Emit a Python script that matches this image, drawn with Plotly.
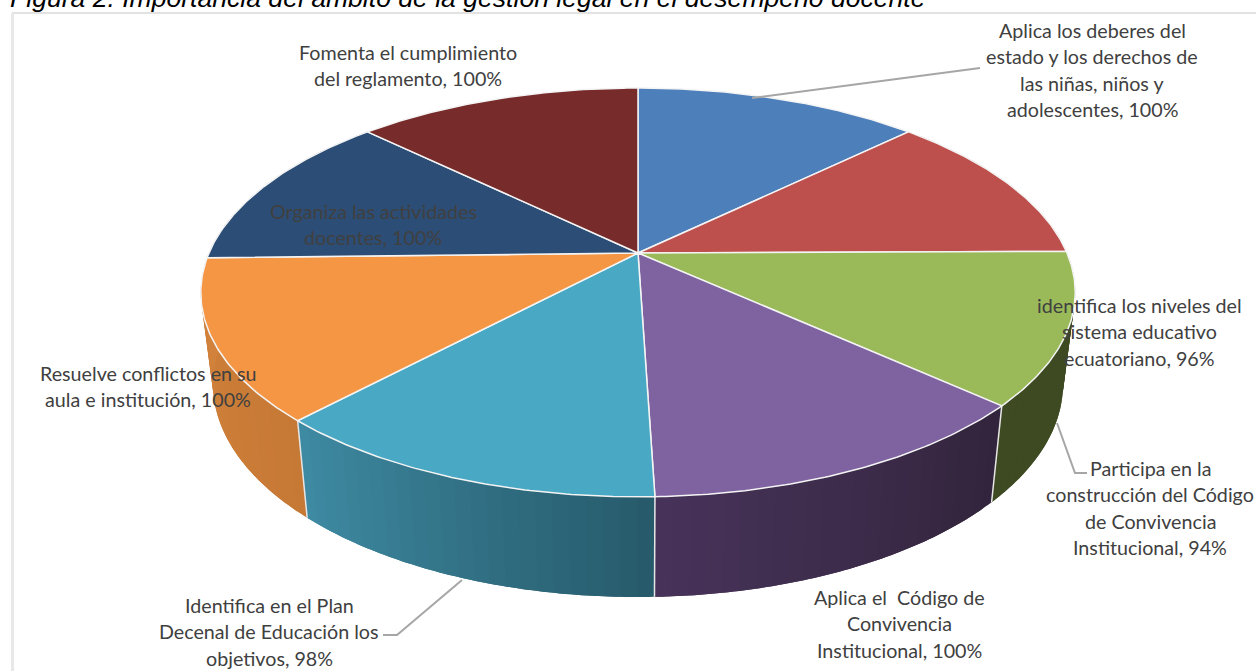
import numpy as np
import plotly.graph_objects as go

TITLE = "Figura 2. Importancia del ámbito de la gestión legal en el desempeño docente"
# Clockwise from 12 o'clock
categories = [
    "Aplica los deberes del|estado y los derechos de|las niñas, niños y|adolescentes",
    "identifica los niveles del|sistema educativo|ecuatoriano",
    "Participa en la|construcción del Código|de Convivencia|Institucional",
    "Aplica el  Código de|Convivencia|Institucional",
    "Identifica en el Plan|Decenal de Educación los|objetivos",
    "Resuelve conflictos en su|aula e institución",
    "Organiza las actividades|docentes",
    "Fomenta el cumplimiento|del reglamento",
]
values = [100, 96, 94, 100, 98, 100, 100, 100]
top_colors = ["#4d7fba", "#bd4f4c", "#9aba59", "#7f62a0", "#49a8c3", "#f59645", "#2c4d75", "#772b2a"]
wall_left = ["#3a5f8c", "#8e3b39", "#3e4a22", "#47335a", "#3f8ba3", "#d3833c", "#203a58", "#591f1f"]
wall_right = ["#3a5f8c", "#8e3b39", "#3e4a22", "#32243b", "#265a6b", "#c67935", "#203a58", "#591f1f"]

label_centers = [(1092, 30), (1139, 305), (1150, 468), (899, 597), (269, 605), (148, 373), (373, 211), (408, 52)]
leaders = [
    ([752, 980], [98, 68]),
    ([1057, 1075, 1087], [423, 473, 473]),
    ([462, 397, 383], [580, 635, 635]),
]

CX, CY, RX, RY, K = 638, 253, 429, 196.8, 0.193
BX, BY, BCY = 417, 205, 343
LINE_H = 26.5


def project(theta, rx, ry, cy):
    s = -np.cos(theta)
    w = 1 - K * s
    return CX + rx * np.sin(theta) / w, cy + ry * s / w


def mix(a, b, t):
    ca = [int(a[i:i + 2], 16) for i in (1, 3, 5)]
    cb = [int(b[i:i + 2], 16) for i in (1, 3, 5)]
    return "#%02x%02x%02x" % tuple(round(p + (q - p) * t) for p, q in zip(ca, cb))


fig = go.Figure()
edges = np.concatenate([[0], np.cumsum(values)]) / sum(values) * 2 * np.pi

# side walls: overlapping shaded bands painted in order so no seams show
for i in range(len(values)):
    start, end = edges[i], edges[i + 1]
    if np.cos(start) > 0.2 and np.cos(end) > 0.2:
        continue
    nb = 24
    th = np.linspace(start, end, nb + 1)
    for j in range(nb):
        t = np.linspace(th[j], th[min(j + 2, nb)], 7)
        xt, yt = project(t, RX, RY, CY)
        xb, yb = project(t[::-1], BX, BY, BCY)
        # angle runs right-to-left along the front of the pie
        color = mix(wall_right[i], wall_left[i], (j + 0.5) / nb)
        fig.add_trace(go.Scatter(x=np.r_[xt, xb, xt[0]], y=np.r_[yt, yb, yt[0]], mode="none",
                                 fill="toself", fillcolor=color, hoverinfo="skip"))
for e in edges[3:7]:
    xt, yt = project(np.array([e]), RX, RY, CY)
    xb, yb = project(np.array([e]), BX, BY, BCY)
    fig.add_trace(go.Scatter(x=[xt[0], xb[0]], y=[yt[0], yb[0]], mode="lines",
                             line=dict(color="#e6e6e6", width=1.5), hoverinfo="skip"))

# top faces
for i in range(len(values)):
    t = np.linspace(edges[i], edges[i + 1], 80)
    x, y = project(t, RX, RY, CY)
    fig.add_trace(go.Scatter(x=np.r_[CX, x, CX], y=np.r_[CY, y, CY], mode="lines", fill="toself",
                             fillcolor=top_colors[i], line=dict(color="#f4f4f4", width=1.5),
                             hoverinfo="skip"))

# leader lines
for lx, ly in leaders:
    fig.add_trace(go.Scatter(x=lx, y=ly, mode="lines", line=dict(color="#a6a6a6", width=2), hoverinfo="skip"))

annotations = [dict(x=8, y=0, yshift=2, text=TITLE, showarrow=False, xanchor="left", yanchor="middle",
                    font=dict(family="Liberation Sans", size=26.6, style="italic", color="#000000"))]
annotations[0]["font"]["size"] = 20 * 917 / 690
for cat, val, (cx, cy) in zip(categories, values, label_centers):
    lines = cat.split("|")
    lines[-1] += f", {val}%"
    for n, line in enumerate(lines):
        annotations.append(dict(x=cx, y=cy + n * LINE_H, text=line, showarrow=False, xanchor="center",
                                yanchor="middle", font=dict(family="Lato", size=19.7, color="#404040")))

fig.update_layout(
    width=1256, height=671, margin=dict(l=0, r=0, t=0, b=0), showlegend=False,
    paper_bgcolor="#ffffff", plot_bgcolor="#ffffff",
    xaxis=dict(range=[0, 1256], visible=False, fixedrange=True),
    yaxis=dict(range=[671, 0], visible=False, fixedrange=True),
    annotations=annotations,
    shapes=[
        dict(type="line", x0=12, x1=1256, y0=13, y1=13, line=dict(color="#d9d9d9", width=1.5), layer="below"),
        dict(type="line", x0=12.5, x1=12.5, y0=13, y1=671, line=dict(color="#e8e8e8", width=3), layer="below"),
    ],
)
fig.write_html("out.html", config={"displayModeBar": False},
               post_script="document.body.style.margin='0';document.body.style.overflow='hidden';")
